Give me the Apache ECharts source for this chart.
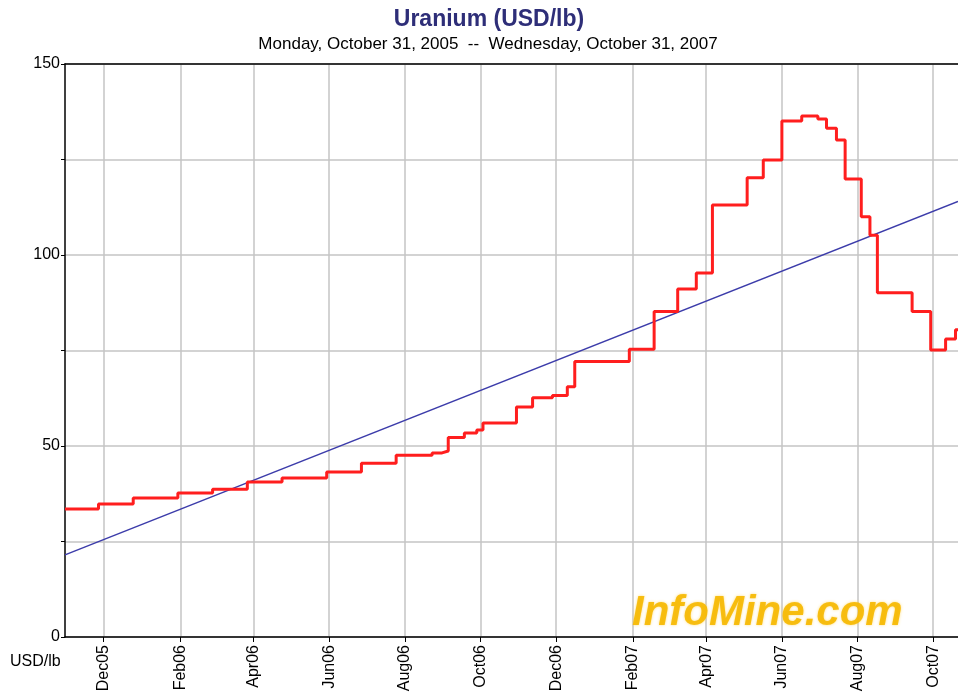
<!DOCTYPE html>
<html><head><meta charset="utf-8">
<script src="https://cdn.jsdelivr.net/npm/echarts@6/dist/echarts.min.js"></script>
<style>html,body{margin:0;padding:0;background:#fff}#c{width:958px;height:698px}</style>
</head><body><div id="c"></div>
<script>
// Axis range (daily categories)
const startDate = '2005-10-31';
const endDate = '2007-10-21';
// Tick dates & labels (every two months)
const tickDates = ['2005-12-01','2006-02-01','2006-04-01','2006-06-01','2006-08-01','2006-10-01','2006-12-01','2007-02-01','2007-04-01','2007-06-01','2007-08-01','2007-10-01'];
const tickLabels = ['Dec05','Feb06','Apr06','Jun06','Aug06','Oct06','Dec06','Feb07','Apr07','Jun07','Aug07','Oct07'];
// Price change dates and new values (USD/lb)
const priceDates = ['2005-10-31','2005-11-27','2005-12-25','2006-01-30','2006-02-27','2006-03-27','2006-04-24','2006-05-30','2006-06-27','2006-07-25','2006-08-23','2006-08-31','2006-09-05','2006-09-18','2006-09-28','2006-10-03','2006-10-30','2006-11-12','2006-11-28','2006-12-10','2006-12-16','2007-01-29','2007-02-18','2007-03-09','2007-03-24','2007-04-06','2007-05-04','2007-05-17','2007-06-01','2007-06-17','2007-06-30','2007-07-07','2007-07-15','2007-07-22','2007-08-04','2007-08-11','2007-08-17','2007-09-14','2007-09-29','2007-10-11','2007-10-19','2007-10-21'];
const priceValues = [33.5,34.8,36.4,37.7,38.7,40.6,41.6,43.2,45.5,47.6,48.2,48.7,52.2,53.4,54.2,56,60.2,62.6,63.2,65.5,72.1,75.3,85.2,91.1,95.3,113.1,120.2,124.9,135.1,136.4,135.6,133.2,130.1,119.9,110,105.2,90.1,85.2,75.1,78,80.4,80.4];
// Linear trend endpoints
const trendDates = ['2005-10-31','2007-10-21'];
const trendValues = [21.5,114];
// Y axis ticks
const yLabels = {0:'0',50:'50',100:'100',150:'150'};

function fmt(d){return d.toISOString().slice(0,10);}
const categories = [];
for (let d = new Date(startDate+'T00:00:00Z'); fmt(d) <= endDate; d.setUTCDate(d.getUTCDate()+1)) categories.push(fmt(d));
const tickSet = new Set(tickDates);
const tickInterval = (i, v) => tickSet.has(v);

const FONT = '"Liberation Sans", Arial, sans-serif';
const chart = echarts.init(document.getElementById('c'));
chart.setOption({
  animation:false,
  backgroundColor:'#fff',
  grid:{left:65,right:0,top:64,bottom:61,containLabel:false},
  graphic:[
    {type:'text',x:489,y:8,style:{text:'Uranium (USD/lb)',font:'bold 23px '+FONT,fill:'#2e2e78',textAlign:'center',textVerticalAlign:'top'}},
    {type:'text',x:488,y:36,style:{text:'Monday, October 31, 2005  --  Wednesday, October 31, 2007',font:'17px '+FONT,fill:'#000',textAlign:'center',textVerticalAlign:'top'}},
    {type:'text',x:10,y:654,style:{text:'USD/lb',font:'16px '+FONT,fill:'#000'}},
    {type:'text',x:632,y:592,z:100,style:{text:'InfoMine.com',font:'italic bold 42px '+FONT,fill:'#f6b800',opacity:0.9,textShadowColor:'rgba(255,210,80,0.8)',textShadowBlur:3}}
  ],
  xAxis:[{
    type:'category',data:categories,boundaryGap:false,
    axisLine:{lineStyle:{color:'#000',width:1.5}},
    axisTick:{show:true,interval:tickInterval,length:5,lineStyle:{color:'#000'}},
    axisLabel:{interval:tickInterval,rotate:90,margin:8,fontFamily:FONT,fontSize:16,color:'#000',
      formatter:v=>{const k=tickDates.indexOf(v);return k>=0?tickLabels[k]:'';}},
    splitLine:{show:true,interval:tickInterval,lineStyle:{color:'#c4c4c4',width:1.5}}
  },{
    type:'category',data:categories,position:'top',boundaryGap:false,
    axisLine:{show:true,lineStyle:{color:'#000',width:1.5}},axisTick:{show:false},axisLabel:{show:false},splitLine:{show:false}
  }],
  yAxis:{
    type:'value',min:0,max:150,interval:25,
    axisLine:{show:true,lineStyle:{color:'#000',width:1.5}},
    axisTick:{show:true,length:4,lineStyle:{color:'#000'}},
    axisLabel:{margin:5,fontFamily:FONT,fontSize:16,color:'#000',formatter:v=>yLabels[v]!==undefined?yLabels[v]:''},
    splitLine:{show:true,lineStyle:{color:'#c4c4c4',width:1.5}}
  },
  series:[
    {type:'line',name:'Trend',data:trendDates.map((d,i)=>[d,trendValues[i]]),showSymbol:false,
      lineStyle:{color:'#3c3caa',width:1.5},z:2},
    {type:'line',name:'Uranium',step:'end',data:priceDates.map((d,i)=>[d,priceValues[i]]),showSymbol:false,
      lineStyle:{color:'#ff1e1e',width:3},z:3}
  ]
});
</script></body></html>
